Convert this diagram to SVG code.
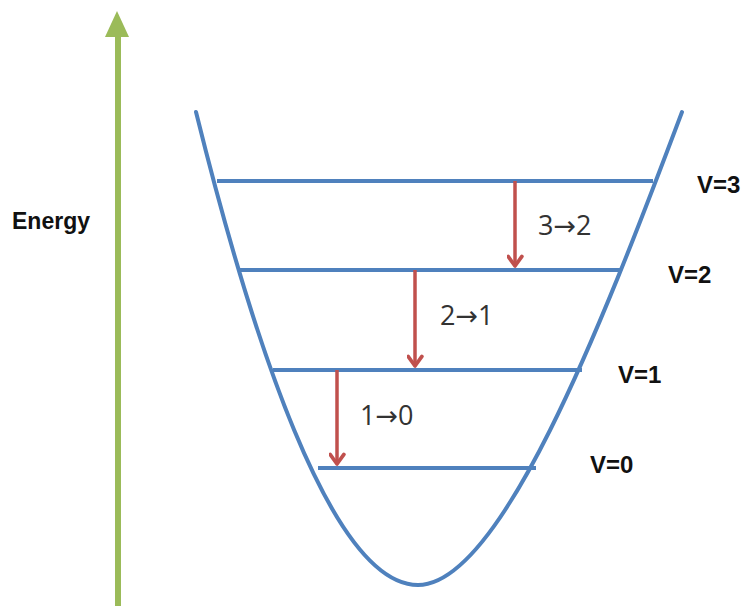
<svg xmlns="http://www.w3.org/2000/svg" width="748" height="610" viewBox="0 0 748 610">
<defs>
<style>
.well{fill:none;stroke:#4F81BD;stroke-width:4;stroke-linecap:round}
.lvl{stroke:#4F81BD;stroke-width:4}
.tr{stroke:#C0504D;stroke-width:3.5;fill:none}
.lab{font-family:"Open Sans","Liberation Sans",sans-serif;font-size:27px;fill:#333}
.arr{font-family:"DejaVu Sans",sans-serif;font-size:27px}
.vl{font-family:"Liberation Sans",sans-serif;font-size:24px;font-weight:bold;fill:#111}
</style>
<marker id="rh" viewBox="0 0 16 16" refX="12" refY="8" markerWidth="17" markerHeight="17" orient="auto" markerUnits="userSpaceOnUse">
<path d="M3,1.5 L12,8 L3,14.5" fill="none" stroke="#C0504D" stroke-width="3.5" stroke-linejoin="round" stroke-linecap="round"/>
</marker>
</defs>
<rect width="748" height="610" fill="#fff"/>
<g id="energy-axis">
<line x1="118" y1="606" x2="118" y2="30" stroke="#9BBB59" stroke-width="6"/>
<path d="M105,37 L117,11 L129,37 Z" fill="#9BBB59"/>
<text x="12" y="229" font-family="Liberation Sans, sans-serif" font-size="23" font-weight="bold" fill="#111">Energy</text>
</g>
<g id="potential-well">
<path class="well" d="M196,112 C250,330 330,585 418,585 C500,585 600,330 682,112"/>
</g>
<g id="level-v3"><line class="lvl" x1="217" y1="181" x2="653" y2="181"/><text class="vl" x="697" y="193">V=3</text></g>
<g id="level-v2"><line class="lvl" x1="238" y1="270" x2="622" y2="270"/><text class="vl" x="668" y="283">V=2</text></g>
<g id="level-v1"><line class="lvl" x1="273" y1="370" x2="582" y2="370"/><text class="vl" x="618" y="383">V=1</text></g>
<g id="level-v0"><line class="lvl" x1="318" y1="468" x2="536" y2="468"/><text class="vl" x="590" y="473">V=0</text></g>
<g id="connectors">
<line class="tr" x1="515" y1="181" x2="515" y2="266" marker-end="url(#rh)"/>
<line class="tr" x1="415" y1="270" x2="415" y2="366" marker-end="url(#rh)"/>
<line class="tr" x1="337" y1="370" x2="337" y2="464" marker-end="url(#rh)"/>
</g>
<g id="labels">
<text class="lab" x="538" y="235">3<tspan class="arr">→</tspan>2</text>
<text class="lab" x="440" y="325">2<tspan class="arr">→</tspan>1</text>
<text class="lab" x="360" y="425">1<tspan class="arr">→</tspan>0</text>
</g>
</svg>
